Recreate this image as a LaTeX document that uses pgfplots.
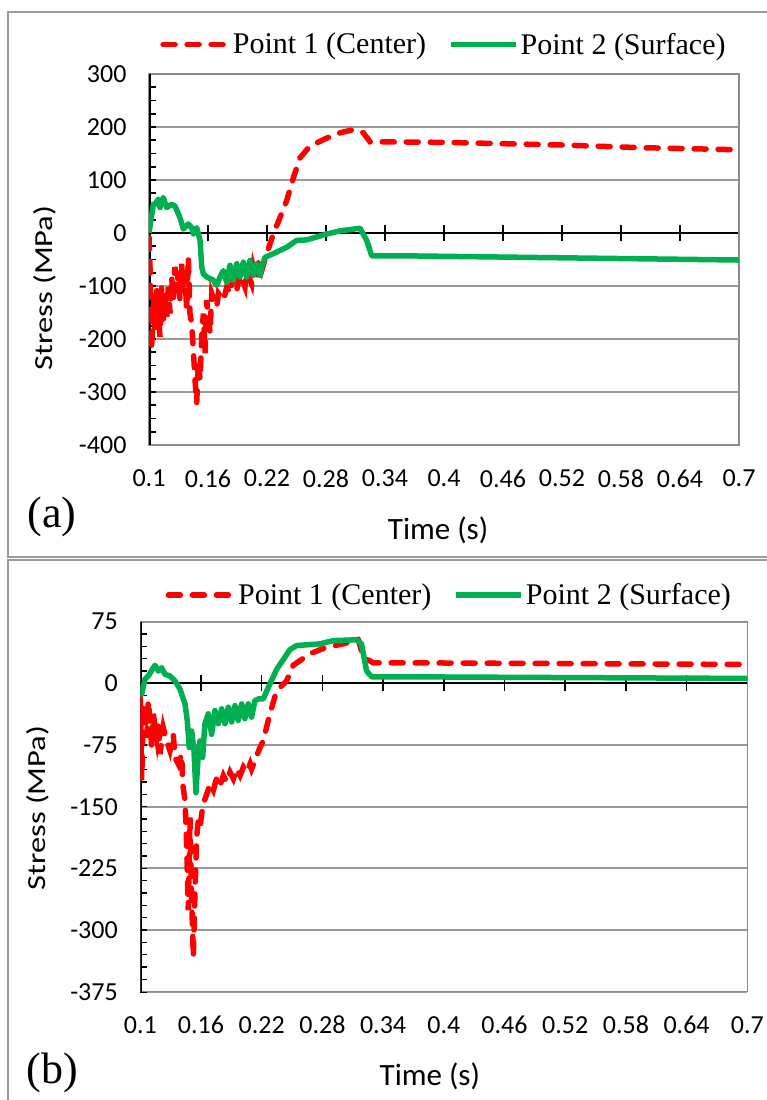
\documentclass[border=0pt]{standalone}
\usepackage{fontspec}
\setmainfont{Liberation Serif}
\newfontfamily\carlito{Carlito}
\usepackage{pgfplots}
\pgfplotsset{compat=1.18}
\definecolor{xred}{HTML}{FF0000}
\definecolor{xgreen}{HTML}{00B050}
\definecolor{gridc}{HTML}{999999}
\definecolor{framec}{HTML}{8C8C8C}
\definecolor{boxc}{HTML}{9A9A9A}
\pgfplotsset{
  excel/.style={
    scale only axis, anchor=south west,
    xmin=0.1, xmax=0.7,
    xtick={0.1,0.16,0.22,0.28,0.34,0.4,0.46,0.52,0.58,0.64,0.7},
    xticklabels={0.1,0.16,0.22,0.28,0.34,0.4,0.46,0.52,0.58,0.64,0.7},
    major x tick style=transparent,
    xtick pos=bottom,
    ytick pos=left,
    tick align=inside,
    axis line style={framec, line width=1.4pt},
    ymajorgrids, grid style={gridc, line width=1.8pt},
    major tick length=7pt, minor tick length=7pt,
    tick style={black, line width=1.6pt},
    ticklabel style={font=\carlito\fontsize{26}{30}\selectfont},
    xticklabel style={yshift=-21pt},
    yticklabel style={xshift=-19pt},
    extra y tick style={grid=none},
    xlabel style={font=\carlito\fontsize{31}{36}\selectfont},
    ylabel style={font=\carlito\fontsize{26}{30}\selectfont, xscale=1.25},
    legend style={draw=none, fill=none, font=\fontsize{30}{34}\selectfont,
      /tikz/every even column/.append style={column sep=20pt}},
    legend columns=2,
    legend image code/.code={\draw[#1] (0pt,0pt) -- (65pt,0pt);},
  },
  zeroline/.style={
    scale only axis, anchor=south west,
    xmin=0.1, xmax=0.7,
    axis x line=middle, axis y line=none,
    xtick={0.16,0.22,0.28,0.34,0.4,0.46,0.52,0.58,0.64,0.7},
    xticklabels={}, ytick=\empty,
    tick align=center, major tick length=16pt,
    x axis line style={-, black, line width=2pt},
    tick style={black, line width=1.5pt},
  },
  redl/.style={xred, line width=5.5pt, line cap=round, dash pattern=on 12pt off 12pt},
  greenl/.style={xgreen, line width=5.5pt, line join=round},
}
\begin{document}
\begin{tikzpicture}[x=1pt,y=1pt]
\useasboundingbox (0,0) rectangle (767,1100);
\draw[boxc, line width=2.2pt] (8,1088) rectangle (780,543);
\draw[boxc, line width=2.2pt] (8,540) rectangle (780,-20);
\node[font=\fontsize{44}{48}\selectfont] at (52,583) {(a)};
\node[font=\fontsize{44}{48}\selectfont] at (52,27) {(b)};

% ---------- panel (a) ----------
\begin{axis}[zeroline, at={(149pt,655pt)}, width=590pt, height=371pt, ymin=-400, ymax=300]
\end{axis}
\begin{axis}[excel, at={(149pt,655pt)}, width=590pt, height=371pt,
  ymin=-400, ymax=300,
  ytick={-400,-300,-200,-100,100,200,300},
  yticklabels={-400,-300,-200,-100,100,200,300},
  extra y ticks={0}, extra y tick labels={0},
  minor ytick={-375,-350,-325,-275,-250,-225,-175,-150,-125,-75,-50,-25,25,50,75,125,150,175,225,250,275},
  xlabel={Time (s)}, ylabel={Stress (MPa)},
  xlabel style={at={(axis description cs:0.49,-0.229)}, anchor=center},
  ylabel style={at={(axis description cs:-0.176,0.423)}, anchor=center},
  legend style={at={(0.5,1.08)}, anchor=center},
]
\draw[black, line width=3pt] (rel axis cs:0,0) -- (rel axis cs:0,1);
\addplot[redl] coordinates {
(0.1000,-8) (0.1010,-64) (0.1027,-221) (0.1044,-114) (0.1061,-189) (0.1078,-108)
(0.1095,-152) (0.1112,-196) (0.1129,-102) (0.1146,-165) (0.1163,-114) (0.1180,-158)
(0.1196,-102) (0.1214,-152) (0.1231,-83) (0.1247,-127) (0.1264,-64) (0.1282,-114)
(0.1298,-71) (0.1315,-127) (0.1332,-58) (0.1349,-114) (0.1366,-77) (0.1383,-146)
(0.1400,-46) (0.1417,-152) (0.1434,-171) (0.1451,-221) (0.1468,-277) (0.1485,-321)
(0.1502,-240) (0.1519,-277) (0.1536,-196) (0.1553,-152) (0.1570,-227) (0.1587,-127)
(0.1621,-189) (0.1638,-114) (0.1689,-140) (0.1706,-114) (0.1757,-127) (0.1791,-102)
(0.1824,-114) (0.1858,-83) (0.1892,-108) (0.1926,-77) (0.1976,-102) (0.1993,-71)
(0.2044,-96) (0.2061,-64) (0.2095,-89) (0.2112,-52) (0.2146,-71) (0.2197,-39)
(0.2264,-2) (0.2332,29) (0.2400,61) (0.2468,104) (0.2536,142) (0.2638,164)
(0.2807,179) (0.2943,189) (0.3078,195) (0.3180,189) (0.3248,172) (0.3400,172)
(0.4000,171) (0.5200,166) (0.6000,161) (0.7000,157)
};
\addlegendentry{Point 1 (Center)}
\addplot[greenl] coordinates {
(0.1000,0) (0.1044,54) (0.1061,54) (0.1095,64) (0.1112,48) (0.1145,67) (0.1180,48)
(0.1231,54) (0.1264,51) (0.1315,29) (0.1349,7.5) (0.1400,17) (0.1434,10) (0.1451,-2)
(0.1485,10) (0.1519,-14) (0.1536,-64) (0.1553,-77) (0.1587,-83) (0.1654,-89)
(0.1689,-99) (0.1722,-83) (0.1756,-71) (0.1790,-93) (0.1824,-61) (0.1858,-89)
(0.1892,-58) (0.1925,-83) (0.1959,-55) (0.1993,-83) (0.2027,-52) (0.2061,-80)
(0.2095,-58) (0.2129,-80) (0.2146,-64) (0.2180,-46) (0.2264,-39) (0.2400,-27)
(0.2502,-14) (0.2604,-13) (0.2807,-2) (0.2943,4) (0.3146,9) (0.3214,-14)
(0.3265,-43) (0.3553,-43) (0.7000,-51)
};
\addlegendentry{Point 2 (Surface)}
\end{axis}

% ---------- panel (b) ----------
\begin{axis}[zeroline, at={(140.3pt,108.3pt)}, width=607pt, height=370pt, ymin=-375, ymax=75]
\end{axis}
\begin{axis}[excel, at={(140.3pt,108.3pt)}, width=607pt, height=370pt,
  ymin=-375, ymax=75,
  ytick={-375,-300,-225,-150,-75,75},
  yticklabels={-375,-300,-225,-150,-75,75},
  extra y ticks={0}, extra y tick labels={0},
  minor ytick={-360,-345,-330,-315,-285,-270,-255,-240,-210,-195,-180,-165,-135,-120,-105,-90,-60,-45,-30,-15,15,30,45,60},
  xlabel={Time (s)}, ylabel={Stress (MPa)},
  xlabel style={at={(axis description cs:0.477,-0.23)}, anchor=center},
  ylabel style={at={(axis description cs:-0.169,0.496)}, anchor=center},
  legend style={at={(0.509,1.072)}, anchor=center},
]
\draw[black, line width=3pt] (rel axis cs:0,0) -- (rel axis cs:0,1);
\addplot[redl] coordinates {
(0.1000,-16) (0.1014,-118) (0.1030,-25) (0.1046,-29) (0.1063,-66) (0.1079,-21)
(0.1096,-45) (0.1113,-78) (0.1128,-37) (0.1162,-66) (0.1178,-45) (0.1195,-86)
(0.1227,-54) (0.1261,-70) (0.1293,-82) (0.1326,-62) (0.1343,-90) (0.1375,-98)
(0.1409,-86) (0.1419,-122) (0.1442,-143) (0.1458,-195) (0.1474,-276) (0.1491,-163)
(0.1508,-264) (0.1524,-333) (0.1540,-256) (0.1557,-187) (0.1573,-167) (0.1590,-175)
(0.1607,-159) (0.1622,-147) (0.1656,-135) (0.1689,-122) (0.1722,-130) (0.1755,-115)
(0.1788,-124) (0.1821,-112) (0.1854,-120) (0.1887,-108) (0.1920,-116) (0.1953,-104)
(0.1986,-112) (0.2019,-102) (0.2052,-108) (0.2085,-98) (0.2100,-104) (0.2133,-94)
(0.2183,-78) (0.2215,-70) (0.2281,-37) (0.2348,-9) (0.2446,3) (0.2512,22)
(0.2677,36) (0.2841,44) (0.3005,48) (0.3154,54) (0.3203,32) (0.3302,25)
(0.3600,25) (0.7000,23)
};
\addlegendentry{Point 1 (Center)}
\addplot[greenl] coordinates {
(0.1000,-15) (0.1014,-13) (0.1046,5) (0.1079,9) (0.1145,22) (0.1178,15) (0.1211,19)
(0.1244,11) (0.1293,9) (0.1343,3) (0.1392,-7) (0.1442,-25) (0.1464,-45) (0.1484,-78)
(0.1508,-58) (0.1531,-82) (0.1550,-133) (0.1573,-86) (0.1590,-70) (0.1616,-90)
(0.1639,-49) (0.1672,-37) (0.1705,-62) (0.1738,-33) (0.1771,-49) (0.1804,-31)
(0.1837,-49) (0.1870,-29) (0.1903,-47) (0.1936,-27) (0.1968,-45) (0.2002,-25)
(0.2034,-43) (0.2067,-25) (0.2100,-41) (0.2133,-21) (0.2166,-19) (0.2215,-19)
(0.2265,-5) (0.2348,17) (0.2479,41) (0.2545,46) (0.2775,48) (0.2907,52)
(0.3138,53) (0.3187,48) (0.3237,15) (0.3286,8) (0.3566,8) (0.7000,6)
};
\addlegendentry{Point 2 (Surface)}
\end{axis}
\end{tikzpicture}
\end{document}
